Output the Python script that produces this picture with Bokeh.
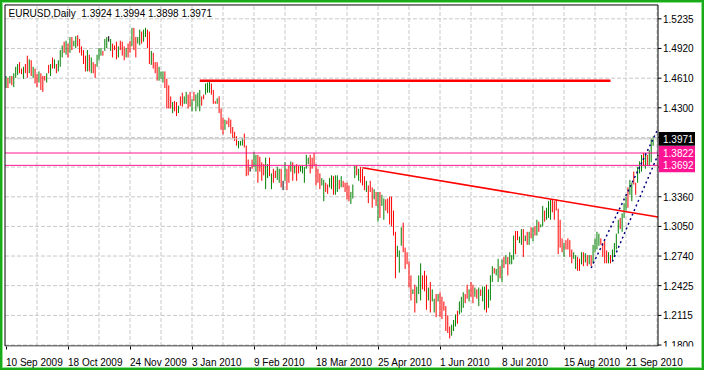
from bokeh.plotting import figure
from bokeh.models import Range1d, FixedTicker, Label, ColumnDataSource, LinearAxis
from bokeh.core.properties import value
from bokeh.embed import file_html
from bokeh.resources import INLINE

symbol = "EURUSD"
timeframe = "Daily"
last_ohlc = [1.3924, 1.3994, 1.3898, 1.3971]

# daily bar highs / lows (bar index 0 = 10 Sep 2009)
highs = [
    1.4633, 1.4613, 1.4633, 1.4633, 1.4662, 1.4730, 1.4759, 1.4779, 1.4711, 1.4730, 1.4759, 1.4847, 1.4808, 1.4799, 1.4730, 1.4711,
    1.4652, 1.4681, 1.4662, 1.4633, 1.4633, 1.4662, 1.4750, 1.4759, 1.4828, 1.4808, 1.4759, 1.4799, 1.4906, 1.4955, 1.4994, 1.5004,
    1.4974, 1.5043, 1.5043, 1.5004, 1.5052, 1.5062, 1.5023, 1.4945, 1.4906, 1.4847, 1.4906, 1.4857, 1.4828, 1.4779, 1.4759, 1.4857,
    1.4926, 1.4926, 1.4897, 1.5023, 1.5043, 1.5052, 1.5023, 1.4974, 1.4955, 1.4994, 1.4945, 1.5004, 1.4994, 1.4945, 1.4926, 1.4974,
    1.5004, 1.5140, 1.5140, 1.5043, 1.5043, 1.5121, 1.5101, 1.5121, 1.5140, 1.5121, 1.5101, 1.4897, 1.4877, 1.4779, 1.4779, 1.4730,
    1.4681, 1.4681, 1.4681, 1.4603, 1.4535, 1.4418, 1.4359, 1.4369, 1.4359, 1.4320, 1.4418, 1.4457, 1.4418, 1.4466, 1.4437, 1.4466,
    1.4388, 1.4466, 1.4437, 1.4457, 1.4486, 1.4418, 1.4437, 1.4554, 1.4564, 1.4574, 1.4554, 1.4486, 1.4369, 1.4398, 1.4418, 1.4291,
    1.4193, 1.4173, 1.4164, 1.4193, 1.4173, 1.4095, 1.4046, 1.3998, 1.3949, 1.3949, 1.3978, 1.4027, 1.3900, 1.3753, 1.3675, 1.3753,
    1.3832, 1.3802, 1.3802, 1.3783, 1.3724, 1.3705, 1.3773, 1.3705, 1.3773, 1.3607, 1.3656, 1.3636, 1.3675, 1.3656, 1.3656, 1.3529,
    1.3724, 1.3656, 1.3685, 1.3734, 1.3724, 1.3685, 1.3705, 1.3685, 1.3685, 1.3685, 1.3675, 1.3802, 1.3773, 1.3802, 1.3773, 1.3822,
    1.3705, 1.3656, 1.3607, 1.3558, 1.3539, 1.3509, 1.3490, 1.3558, 1.3587, 1.3578, 1.3587, 1.3587, 1.3539, 1.3578, 1.3529, 1.3509,
    1.3509, 1.3480, 1.3412, 1.3490, 1.3685, 1.3685, 1.3656, 1.3675, 1.3656, 1.3578, 1.3529, 1.3480, 1.3529, 1.3460, 1.3441, 1.3412,
    1.3412, 1.3412, 1.3382, 1.3343, 1.3334, 1.3343, 1.3363, 1.3363, 1.3216, 1.2992, 1.2845, 1.2796, 1.3040, 1.3089, 1.2826, 1.2777,
    1.2679, 1.2533, 1.2386, 1.2435, 1.2415, 1.2533, 1.2660, 1.2533, 1.2581, 1.2533, 1.2405, 1.2464, 1.2386, 1.2288, 1.2337, 1.2337,
    1.2356, 1.2308, 1.2259, 1.2210, 1.2112, 1.1995, 1.2014, 1.2063, 1.2122, 1.2161, 1.2259, 1.2308, 1.2356, 1.2337, 1.2435, 1.2386,
    1.2464, 1.2435, 1.2405, 1.2386, 1.2405, 1.2386, 1.2415, 1.2415, 1.2435, 1.2386, 1.2533, 1.2630, 1.2611, 1.2601, 1.2708, 1.2630,
    1.2699, 1.2728, 1.2747, 1.2728, 1.2777, 1.2747, 1.2953, 1.3001, 1.3001, 1.2943, 1.3021, 1.3021, 1.2953, 1.2992, 1.2992, 1.3040,
    1.3040, 1.3050, 1.3119, 1.3099, 1.3070, 1.3265, 1.3216, 1.3246, 1.3314, 1.3334, 1.3334, 1.3314, 1.3334, 1.3236, 1.3119, 1.2923,
    1.2874, 1.2904, 1.2923, 1.2904, 1.2806, 1.2777, 1.2747, 1.2728, 1.2708, 1.2777, 1.2777, 1.2767, 1.2747, 1.2747, 1.2747, 1.2855,
    1.2923, 1.2992, 1.2972, 1.2923, 1.2874, 1.2894, 1.2796, 1.2777, 1.2747, 1.2806, 1.2874, 1.2972, 1.3119, 1.3138, 1.3187, 1.3294,
    1.3363, 1.3460, 1.3539, 1.3509, 1.3626, 1.3509, 1.3675, 1.3734, 1.3802, 1.3822, 1.3822, 1.3802, 1.3851, 1.3978, 1.3994,
]
lows = [
    1.4506, 1.4506, 1.4554, 1.4535, 1.4515, 1.4613, 1.4642, 1.4662, 1.4652, 1.4603, 1.4662, 1.4613, 1.4662, 1.4633, 1.4613, 1.4554,
    1.4515, 1.4564, 1.4486, 1.4466, 1.4584, 1.4564, 1.4662, 1.4633, 1.4711, 1.4711, 1.4662, 1.4681, 1.4730, 1.4828, 1.4877, 1.4857,
    1.4828, 1.4877, 1.4906, 1.4945, 1.4926, 1.4945, 1.4877, 1.4847, 1.4759, 1.4681, 1.4681, 1.4681, 1.4662, 1.4662, 1.4613, 1.4730,
    1.4799, 1.4847, 1.4847, 1.4897, 1.4926, 1.4994, 1.4897, 1.4828, 1.4906, 1.4808, 1.4828, 1.4906, 1.4847, 1.4799, 1.4828, 1.4828,
    1.4877, 1.4945, 1.4906, 1.4828, 1.4974, 1.4955, 1.4974, 1.4994, 1.5043, 1.4926, 1.4759, 1.4750, 1.4711, 1.4662, 1.4584, 1.4584,
    1.4603, 1.4564, 1.4506, 1.4291, 1.4291, 1.4291, 1.4242, 1.4261, 1.4212, 1.4242, 1.4320, 1.4310, 1.4340, 1.4340, 1.4291, 1.4310,
    1.4261, 1.4369, 1.4261, 1.4310, 1.4261, 1.4320, 1.4388, 1.4437, 1.4457, 1.4457, 1.4437, 1.4340, 1.4340, 1.4340, 1.4242, 1.4066,
    1.4017, 1.4066, 1.4125, 1.4095, 1.4027, 1.3978, 1.3949, 1.3900, 1.3871, 1.3900, 1.3900, 1.3880, 1.3578, 1.3587, 1.3626, 1.3656,
    1.3675, 1.3626, 1.3509, 1.3626, 1.3529, 1.3587, 1.3441, 1.3558, 1.3578, 1.3441, 1.3509, 1.3558, 1.3539, 1.3509, 1.3460, 1.3431,
    1.3529, 1.3431, 1.3509, 1.3626, 1.3529, 1.3607, 1.3529, 1.3607, 1.3626, 1.3607, 1.3509, 1.3656, 1.3705, 1.3607, 1.3656, 1.3685,
    1.3480, 1.3509, 1.3441, 1.3480, 1.3314, 1.3412, 1.3392, 1.3460, 1.3441, 1.3382, 1.3382, 1.3412, 1.3441, 1.3460, 1.3460, 1.3412,
    1.3334, 1.3314, 1.3285, 1.3343, 1.3558, 1.3587, 1.3529, 1.3509, 1.3480, 1.3431, 1.3412, 1.3294, 1.3412, 1.3246, 1.3334, 1.3265,
    1.3099, 1.3138, 1.3265, 1.3119, 1.3216, 1.3187, 1.3070, 1.3050, 1.2953, 1.2503, 1.2728, 1.2562, 1.2845, 1.2777, 1.2601, 1.2650,
    1.2405, 1.2269, 1.2337, 1.2142, 1.2240, 1.2337, 1.2269, 1.2386, 1.2366, 1.2171, 1.2269, 1.2142, 1.2259, 1.2142, 1.2093, 1.2259,
    1.2093, 1.2073, 1.2161, 1.1947, 1.1927, 1.1869, 1.1898, 1.1947, 1.1995, 1.2024, 1.2122, 1.2142, 1.2191, 1.2240, 1.2288, 1.2259,
    1.2308, 1.2240, 1.2308, 1.2288, 1.2210, 1.2317, 1.2259, 1.2171, 1.2142, 1.2191, 1.2269, 1.2464, 1.2552, 1.2533, 1.2464, 1.2503,
    1.2464, 1.2611, 1.2650, 1.2533, 1.2650, 1.2650, 1.2699, 1.2757, 1.2904, 1.2874, 1.2855, 1.2728, 1.2894, 1.2855, 1.2855, 1.2923,
    1.2894, 1.2953, 1.2953, 1.2992, 1.3040, 1.3050, 1.3099, 1.3119, 1.3138, 1.3119, 1.3197, 1.3119, 1.3216, 1.2757, 1.2826, 1.2777,
    1.2728, 1.2806, 1.2806, 1.2728, 1.2660, 1.2708, 1.2601, 1.2581, 1.2581, 1.2650, 1.2630, 1.2669, 1.2630, 1.2650, 1.2630, 1.2660,
    1.2777, 1.2806, 1.2845, 1.2855, 1.2728, 1.2660, 1.2660, 1.2660, 1.2660, 1.2679, 1.2728, 1.2806, 1.2972, 1.3021, 1.2992, 1.3138,
    1.3216, 1.3246, 1.3382, 1.3314, 1.3490, 1.3382, 1.3509, 1.3607, 1.3626, 1.3685, 1.3656, 1.3685, 1.3685, 1.3724, 1.3898,
]
# bar direction: U = up (close > open), D = down, F = flat
directions = (
    "UDUDUUUDDUDDUDUD" "DUDDDUDUDUDUUUDU" "DUDUUDDDDDUDUDDU" "UUDUUFUDDDUDDDUD"
    "DUDDUUDUUDDUDDDU" "UUDDDDUDDUDDUUDD" "UDUUUDDUUUDDDUDD" "DUDDDDDDUUUDDDFD"
    "UUDDDDUUDUDDUUDF" "UDDUDUDDUUUUUDDD" "DDDUUDDUUDUUDUDD" "DDUUUDUDDDUDDDUD"
    "UDUUDDDDDDUUUDDD" "DDUDUUUDDDUDUUDU" "DDDDDDUUUDUUUDDU" "DDUDUDUUDUUUDUUD"
    "UDUDUUUDDUUDUDUD" "UDUDUUDUUUDDDDDD" "UDDDDUUDDUDUDUDU" "UUUDDDDUDUUUUDUU"
    "UDUUDDUUUDUDUUU"
)

date_ticks = [0, 32, 64, 96, 128, 160, 192, 224, 256, 288, 320]
date_labels = ["10 Sep 2009", "18 Oct 2009", "24 Nov 2009", "3 Jan 2010", "9 Feb 2010",
               "18 Mar 2010", "25 Apr 2010", "1 Jun 2010", "8 Jul 2010", "15 Aug 2010", "21 Sep 2010"]
grid_bars = [16, 32, 48, 64, 80, 96, 112, 128, 144, 160, 176, 192, 208, 224, 240, 256, 272, 288, 304, 320, 336]

price_ticks = [1.1800, 1.2112, 1.2425, 1.2737, 1.3049, 1.3361, 1.3674, 1.3986, 1.4298, 1.4610, 1.4923, 1.5235]
price_tick_labels = ["1.1800", "1.2115", "1.2425", "1.2740", "1.3050", "1.3360", "", "", "1.4300", "1.4610", "1.4920", "1.5235"]

bid_price = 1.3971
alert_prices = [1.3822, 1.3692]
resistance_bars = [100, 312]
resistance_prices = [1.4584, 1.4584]
trend_bars = [184, 336.5]
trend_prices = [1.3666, 1.3148]
channel_upper_bars = [302, 336]
channel_upper_prices = [1.2611, 1.4056]
channel_lower_bars = [313, 336.5]
channel_lower_prices = [1.2679, 1.3802]

FONT = "Liberation Sans"
FS = 10
GREEN = "#008000"
RED = "#ff0000"
PINK = "#ff1493"
GRID = "#c8c8c8"
BID = "#c0c0c0"
NAVY = "#000080"

# ---- geometry (pixels) ----
W, H = 704, 370
ML, MT, MR, MB = 3, 3, 3, 20
FW, FH = W - ML - MR, H - MT - MB
P = 1.9375                                   # px per daily bar
S = 30.0 / ((price_ticks[-1] - price_ticks[0]) / (len(price_ticks) - 1))   # px per price unit
X0 = -2.5 / P
X1 = X0 + FW / P
Y0 = price_ticks[0] - 1.5 / S
Y1 = Y0 + FH / S
X_AX = X0 + 654.5 / P          # price-scale line
X_LEFT = X0 + 1.5 / P
Y_TOP = Y1 - 1.5 / S
Y_BOT = Y0 + 0.5 / S

ADV = {" ": 278, ".": 278, "S": 667, "e": 556, "p": 556, "O": 778, "c": 500, "t": 278, "N": 722,
       "o": 556, "v": 500, "J": 500, "a": 556, "n": 556, "F": 611, "b": 556, "M": 833, "r": 333,
       "A": 667, "u": 556, "l": 222, "g": 556}


def text_px(s):
    return sum(ADV.get(ch, 556) for ch in s) * FS / 1000.0


color_map = {"U": GREEN, "D": RED, "F": "#000000"}
src = ColumnDataSource(dict(
    x=list(range(len(highs))),
    hi=highs,
    lo=lows,
    color=[color_map[d] for d in directions],
))

p = figure(width=W, height=H, output_backend="svg", toolbar_location=None,
           x_range=Range1d(X0, X1), y_range=Range1d(Y0, Y1),
           y_axis_location=None,
           min_border_left=ML, min_border_top=MT, min_border_right=MR, min_border_bottom=MB,
           border_fill_color=None, background_fill_color=None, outline_line_color=None)
p.styles = {"box-shadow": "inset 0 0 0 2px #19aa19, inset 0 0 0 3px #8fe08f",
            "background-color": "white"}
p.grid.visible = False

# grid lines (one line glyph per grid line, dashed, below the bars)
for b in grid_bars:
    p.line([b, b], [Y_BOT, Y_TOP], line_color=GRID, line_width=1, line_dash="4 2")
for t in price_ticks:
    p.line([X_LEFT, X_AX], [t, t], line_color=GRID, line_width=1, line_dash="4 2")

# bottom axis: tick marks at the dates
p.xaxis.ticker = FixedTicker(ticks=date_ticks)
p.xaxis.major_label_overrides = {t: "" for t in date_ticks}
p.xaxis.axis_line_color = None
p.xaxis.major_tick_line_color = "black"
p.xaxis.major_tick_in = 0
p.xaxis.major_tick_out = 3
p.xaxis.minor_tick_line_color = None
p.xaxis.major_label_standoff = 0
p.xaxis.major_label_text_font_size = "1px"

# second bottom axis carrying the date texts, each starting at its tick
centers = [round(t + text_px(lab) / 2.0 / P, 2) for t, lab in zip(date_ticks, date_labels)]
date_axis = LinearAxis(ticker=FixedTicker(ticks=centers),
                       major_label_overrides={c: lab for c, lab in zip(centers, date_labels)},
                       axis_line_color=None, major_tick_line_color=None, minor_tick_line_color=None,
                       major_label_standoff=1, major_label_text_font=FONT,
                       major_label_text_font_size="%dpx" % FS, major_label_text_color="black")
p.add_layout(date_axis, "below")

# bars
p.segment(x0="x", y0="lo", x1="x", y1="hi", source=src, line_color="color", line_width=1)

# horizontal levels
p.segment(x0=[X_LEFT], y0=[bid_price], x1=[X_AX], y1=[bid_price], line_color=BID, line_width=1)
p.segment(x0=[X_LEFT] * 2, y0=alert_prices, x1=[X_AX] * 2, y1=alert_prices, line_color=PINK, line_width=1)

# objects
p.line(resistance_bars, resistance_prices, line_color=RED, line_width=2.5)
p.line(trend_bars, trend_prices, line_color=RED, line_width=1.5)
p.line(channel_upper_bars, channel_upper_prices, line_color=NAVY, line_width=1.5, line_dash="2 3")
p.line(channel_lower_bars, channel_lower_prices, line_color=NAVY, line_width=1.5, line_dash="2 3")

# chart frame and price scale line
n_h = len(price_ticks)
p.segment(x0=[X_LEFT, X_LEFT, X_LEFT, X_AX], y0=[Y_BOT, Y_TOP, Y_BOT, Y_BOT],
          x1=[X_LEFT, X_AX, X_AX, X_AX], y1=[Y_TOP, Y_TOP, Y_BOT, Y_TOP],
          line_color="black", line_width=1)

# price scale: tick marks and labels
shown = [(t, l) for t, l in zip(price_ticks, price_tick_labels) if l]
p.segment(x0=[X_AX] * n_h, y0=price_ticks, x1=[X_AX + 3.5 / P] * n_h, y1=price_ticks,
          line_color="black", line_width=1)
p.text(x=[X_AX + 5 / P] * len(shown), y=[t for t, _ in shown], text=[l for _, l in shown],
       text_font=value(FONT), text_font_size=value("%dpx" % FS), text_color="black",
       text_align="left", text_baseline="middle")

# price boxes on the scale
box_prices = [bid_price] + alert_prices
box_colors = ["black", PINK, PINK]
p.quad(left=[X_AX + 0.75 / P] * 3, right=[X_AX + 37 / P] * 3,
       bottom=[v - 7 / S for v in box_prices], top=[v + 7 / S for v in box_prices],
       fill_color=box_colors, line_color=None)
p.text(x=[X_AX + 5 / P] * 3, y=box_prices, text=["%.4f" % v for v in box_prices],
       text_font=value(FONT), text_font_size=value("%dpx" % FS), text_color="white",
       text_align="left", text_baseline="middle")

# header text
title = "%s,%s\u00a0 %s" % (symbol, timeframe, " ".join("%.4f" % v for v in last_ohlc))
p.add_layout(Label(x=X0 + 5 / P, y=Y1 - 5 / S, text=title, text_baseline="top", text_align="left",
                   text_font=FONT, text_font_size="%dpx" % FS, text_color="black"))

open("out.html", "w").write(file_html(p, INLINE))
